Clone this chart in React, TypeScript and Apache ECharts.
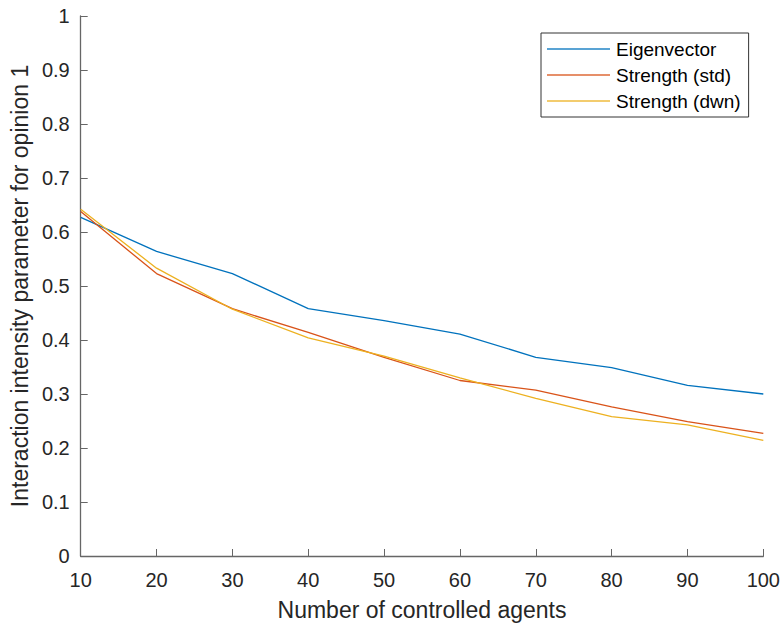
import React, { useEffect, useRef } from "react";
import * as echarts from "echarts";

const agents = [10, 20, 30, 40, 50, 60, 70, 80, 90, 100];
const eigenvector = [0.627, 0.564, 0.523, 0.458, 0.436, 0.411, 0.368, 0.349, 0.316, 0.3];
const strengthStd = [0.638, 0.523, 0.458, 0.414, 0.368, 0.325, 0.307, 0.276, 0.249, 0.227];
const strengthDwn = [0.642, 0.533, 0.457, 0.404, 0.37, 0.33, 0.292, 0.258, 0.243, 0.214];
const seriesNames = ["Eigenvector", "Strength (std)", "Strength (dwn)"];
const seriesColors = ["#0072BD", "#D95319", "#EDB120"];

const FONT = "'Liberation Sans', Arial, Helvetica, sans-serif";

export default function App() {
  const ref = useRef<HTMLDivElement>(null);
  useEffect(() => {
    if (!ref.current) return;
    const chart = echarts.init(ref.current, undefined, { renderer: "svg" });
    const allData = [eigenvector, strengthStd, strengthDwn];
    chart.setOption({
      animation: false,
      backgroundColor: "#ffffff",
      textStyle: { fontFamily: FONT },
      grid: { left: 79, right: 19, top: 16, bottom: 69, containLabel: false },
      legend: {
        orient: "vertical",
        left: 541,
        top: 33,
        padding: [6, 8, 6, 6],
        itemGap: 6,
        itemWidth: 63,
        itemHeight: 2,
        icon: "rect",
        borderColor: "#333",
        borderWidth: 1,
        backgroundColor: "#fff",
        textStyle: { fontSize: 19, color: "#000", lineHeight: 20, fontFamily: FONT, padding: [0, 0, 0, 1] },
        data: seriesNames.map((name, i) => ({ name, itemStyle: { color: seriesColors[i], opacity: 0.65 } })),
      },
      xAxis: {
        type: "value",
        min: 10,
        max: 100,
        interval: 10,
        name: "Number of controlled agents",
        nameLocation: "middle",
        nameGap: 42,
        nameTextStyle: { fontSize: 23, color: "#262626", fontFamily: FONT },
        axisLine: { show: true, lineStyle: { color: "#666", width: 1.3 } },
        axisTick: { show: true, inside: true, length: 7, lineStyle: { color: "#666" } },
        axisLabel: { fontSize: 20, color: "#262626", margin: 14, fontFamily: FONT },
        splitLine: { show: false },
      },
      yAxis: {
        type: "value",
        min: 0,
        max: 1,
        interval: 0.1,
        name: "Interaction intensity parameter for opinion 1",
        nameLocation: "middle",
        nameGap: 49,
        nameTextStyle: { fontSize: 23, color: "#262626", fontFamily: FONT },
        axisLine: { show: true, lineStyle: { color: "#666", width: 1.3 } },
        axisTick: { show: true, inside: true, length: 7, lineStyle: { color: "#666" } },
        axisLabel: { fontSize: 20, color: "#262626", margin: 11, fontFamily: FONT },
        splitLine: { show: false },
      },
      series: seriesNames.map((name, i) => ({
        name,
        type: "line",
        symbol: "none",
        color: seriesColors[i],
        lineStyle: { width: 1.3, color: seriesColors[i] },
        data: agents.map((a, j) => [a, allData[i][j]]),
      })),
    });
    return () => chart.dispose();
  }, []);
  return <div ref={ref} style={{ width: 783, height: 626, position: "absolute", left: 0, top: 0 }} />;
}
